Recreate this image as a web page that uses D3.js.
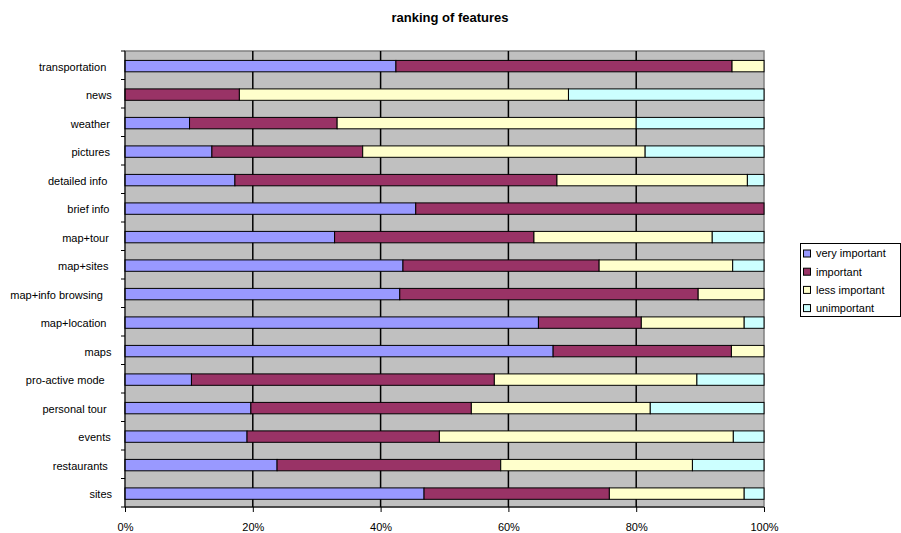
<!DOCTYPE html>
<html>
<head>
<meta charset="utf-8">
<script src="https://cdn.jsdelivr.net/npm/d3@7"></script>
<style>
  body { margin: 0; background: #fff; }
  svg text { font-family: Arial, 'Liberation Sans', sans-serif; fill: #000; }
</style>
</head>
<body>
<div class="chart"></div>
<script>
'use strict';

var categories = ['transportation', 'news', 'weather', 'pictures', 'detailed info', 'brief info',
  'map+tour', 'map+sites', 'map+info browsing', 'map+location', 'maps', 'pro-active mode',
  'personal tour', 'events', 'restaurants', 'sites'];
var veryImportant = [42.4, 0, 10.1, 13.6, 17.2, 45.5, 32.8, 43.5, 43.0, 64.7, 67.0, 10.4, 19.7, 19.1, 23.8, 46.8];
var important = [52.6, 17.9, 23.1, 23.6, 50.4, 54.5, 31.2, 30.7, 46.7, 16.1, 27.9, 47.4, 34.5, 30.1, 35.0, 29.0];
var lessImportant = [5.0, 51.5, 46.8, 44.2, 29.8, 0, 27.9, 20.9, 10.3, 16.1, 5.1, 31.7, 28.0, 46.0, 30.0, 21.1];
var unimportant = [0, 30.6, 20.0, 18.6, 2.6, 0, 8.1, 4.9, 0, 3.1, 0, 10.5, 17.8, 4.8, 11.2, 3.1];
var seriesNames = ['very important', 'important', 'less important', 'unimportant'];
var seriesColors = ['#9999ff', '#993366', '#ffffcc', '#ccffff'];
var xTicks = [0, 20, 40, 60, 80, 100];

var svg = d3.select('.chart').append('svg')
  .attr('width', 901)
  .attr('height', 533);

var plot = {left: 125, right: 764, top: 51, bottom: 507};

var rows = categories.map(function(c, i) {
  return {cat: c, values: [veryImportant[i], important[i], lessImportant[i], unimportant[i]]};
});

var x = d3.scaleLinear()
  .domain([0, 100])
  .range([plot.left, plot.right]);

var y = d3.scaleBand()
  .domain(categories)
  .range([plot.top, plot.bottom])
  .paddingInner(0.6)
  .paddingOuter(0.3)
  .align(0.55);

var step = (plot.bottom - plot.top) / categories.length;

// title
svg.append('text')
  .attr('x', 450)
  .attr('y', 22)
  .attr('text-anchor', 'middle')
  .style('font-size', '13px')
  .style('font-weight', 'bold')
  .text('ranking of features');

// plot area
svg.append('rect')
  .attr('x', plot.left)
  .attr('y', plot.top)
  .attr('width', plot.right - plot.left)
  .attr('height', plot.bottom - plot.top)
  .attr('fill', '#c0c0c0')
  .attr('stroke', '#808080')
  .attr('stroke-width', 1.5);

// gridlines
svg.selectAll('.grid')
  .data(xTicks.slice(1, -1))
  .enter().append('line')
  .attr('class', 'grid')
  .attr('x1', function(d) { return x(d); })
  .attr('x2', function(d) { return x(d); })
  .attr('y1', plot.top)
  .attr('y2', plot.bottom)
  .attr('stroke', '#000')
  .attr('stroke-width', 1.5);

// bars
var stack = svg.selectAll('.row')
  .data(rows)
  .enter().append('g')
  .attr('class', 'row');

stack.selectAll('rect')
  .data(function(d) {
    var acc = 0;
    return d.values.map(function(v, k) {
      var seg = {cat: d.cat, x0: acc, x1: acc + v, k: k};
      acc += v;
      return seg;
    }).filter(function(s) { return s.x1 > s.x0; });
  })
  .enter().append('rect')
  .attr('x', function(d) { return x(d.x0); })
  .attr('y', function(d) { return y(d.cat); })
  .attr('width', function(d) { return x(d.x1) - x(d.x0); })
  .attr('height', y.bandwidth())
  .attr('fill', function(d) { return seriesColors[d.k]; })
  .attr('stroke', '#000')
  .attr('stroke-width', 1);

// y axis line and ticks between categories
svg.append('line')
  .attr('x1', plot.left).attr('x2', plot.left)
  .attr('y1', plot.top).attr('y2', plot.bottom)
  .attr('stroke', '#000');

svg.selectAll('.ytick')
  .data(d3.range(categories.length + 1))
  .enter().append('line')
  .attr('class', 'ytick')
  .attr('x1', plot.left - 4)
  .attr('x2', plot.left)
  .attr('y1', function(i) { return plot.top + i * step; })
  .attr('y2', function(i) { return plot.top + i * step; })
  .attr('stroke', '#000');

svg.selectAll('.ylabel')
  .data(categories)
  .enter().append('text')
  .attr('class', 'ylabel')
  .attr('y', function(d) { return y(d) + y.bandwidth() / 2 + 1; })
  .attr('dy', '0.35em')
  .attr('text-anchor', 'end')
  .style('font-size', '11px')
  .text(function(d) { return d; })
  .each(function() {
    d3.select(this).attr('x', 115 - 0.13 * this.getComputedTextLength());
  });

// x axis
var xAxis = svg.append('g')
  .attr('transform', 'translate(0,' + plot.bottom + ')')
  .call(d3.axisBottom(x)
    .tickValues(xTicks)
    .tickSize(5)
    .tickFormat(function(d) { return d + '%'; }));

xAxis.select('.domain').attr('stroke', '#000').attr('d', 'M' + plot.left + ',0H' + plot.right);
xAxis.selectAll('.tick line').attr('stroke', '#000');
xAxis.selectAll('.tick text')
  .attr('y', 24)
  .attr('dy', 0)
  .style('font-size', '11px')
  .style('font-family', "Arial, 'Liberation Sans', sans-serif");

// legend
var legend = svg.append('g')
  .attr('transform', 'translate(800,243)');

legend.append('rect')
  .attr('x', 0.5)
  .attr('y', 0.5)
  .attr('width', 100)
  .attr('height', 73)
  .attr('fill', '#fff')
  .attr('stroke', '#000');

var item = legend.selectAll('.item')
  .data(seriesNames)
  .enter().append('g')
  .attr('class', 'item')
  .attr('transform', function(d, i) { return 'translate(0,' + (10.5 + i * 18.2) + ')'; });

item.append('rect')
  .attr('x', 3.5)
  .attr('y', -3.5)
  .attr('width', 7)
  .attr('height', 7)
  .attr('fill', function(d, i) { return seriesColors[i]; })
  .attr('stroke', '#000');

item.append('text')
  .attr('x', 16)
  .attr('dy', '0.35em')
  .style('font-size', '11px')
  .text(function(d) { return d; });
</script>
</body>
</html>
